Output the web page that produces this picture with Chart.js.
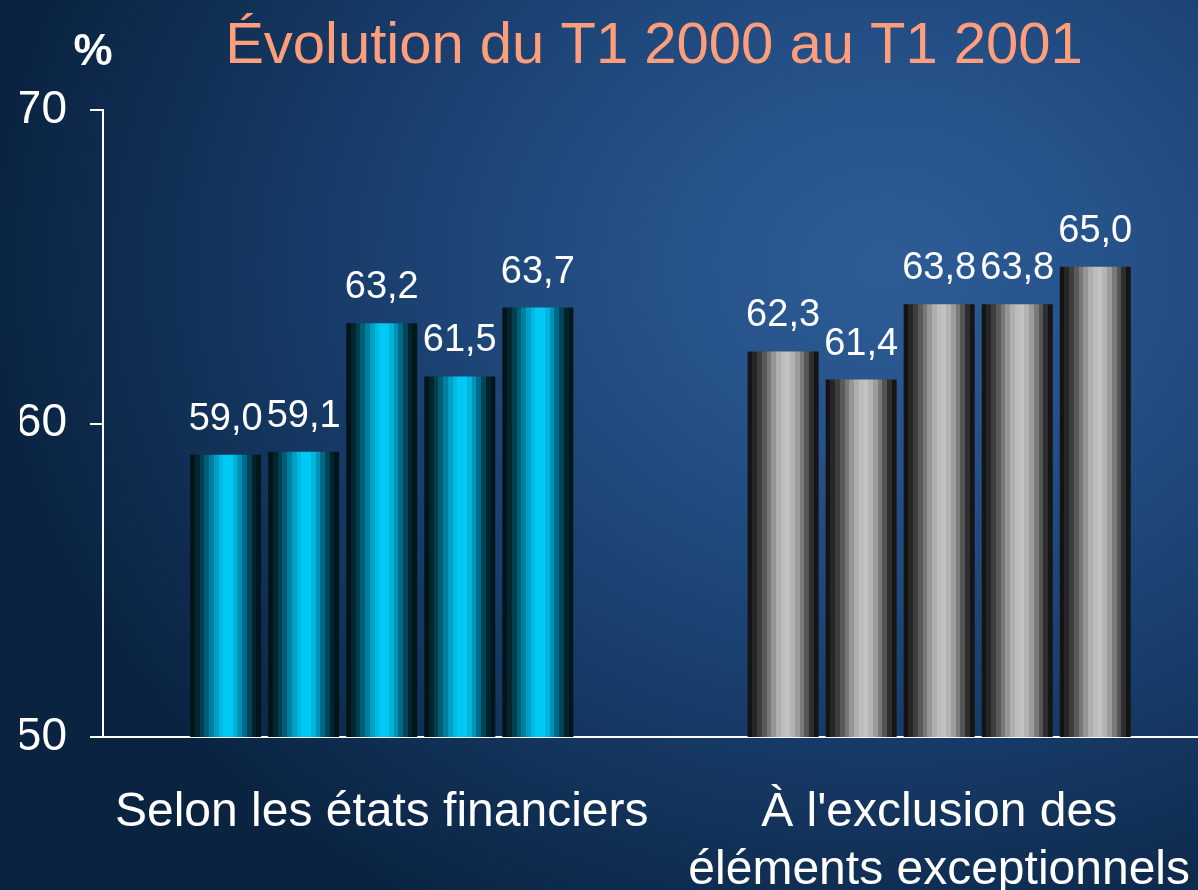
<!DOCTYPE html>
<html lang="fr">
<head>
<meta charset="utf-8">
<title>Évolution du T1 2000 au T1 2001</title>
<script src="https://cdn.jsdelivr.net/npm/chart.js@4.4.1/dist/chart.umd.min.js"></script>
<style>
  html, body { margin: 0; padding: 0; width: 1198px; height: 890px; overflow: hidden; }
  body { background: radial-gradient(ellipse 900px 750px at 74% 30%, #2d5c96 0%, #26528a 25%, #183d6b 60%, #0a2341 100%); }
  canvas { display: block; }
</style>
</head>
<body>
<canvas id="evolutionChart" width="1229" height="890"></canvas>
<script>
// données (%)
var categories = [['Selon les états financiers'], ["À l'exclusion des", 'éléments exceptionnels']];
var selonEtats = [59.0, 59.1, 63.2, 61.5, 63.7];
var horsExceptionnels = [62.3, 61.4, 63.8, 63.8, 65.0];
var yMin = 50, yMax = 70, yStep = 10;
var titre = 'Évolution du T1 2000 au T1 2001';

var police = '"Liberation Sans", Arial, sans-serif';

// bandes de couleur pour l'effet cylindre
var bandesCyan = ['#021418', '#03262e', '#00404f', '#005e76', '#007f9f', '#009fc6', '#00b9e2', '#00c9f6', '#00c9f6', '#00b4dc', '#0093b8', '#006b88', '#00445a', '#01232b', '#01161a'];
var bandesGris = ['#141414', '#262626', '#3e3e3e', '#5a5a5a', '#787878', '#969696', '#afafaf', '#bdbdbd', '#c2c2c2', '#b4b4b4', '#9c9c9c', '#7a7a7a', '#555555', '#2e2e2e', '#151515'];

function degrade(ctx, x0, x1, bandes) {
    var g = ctx.createLinearGradient(x0, 0, x1, 0);
    var n = bandes.length;
    for (var i = 0; i < n; i++) {
        g.addColorStop(i / n, bandes[i]);
        g.addColorStop(Math.min(1, (i + 1) / n - 0.0001), bandes[i]);
    }
    return g;
}

var datasets = [];
for (var i = 0; i < selonEtats.length; i++) {
    datasets.push({
        data: [selonEtats[i], horsExceptionnels[i]],
        // scriptable pour que chaque barre ait ses propres options
        backgroundColor: function (c) { return c.dataIndex === 0 ? '#00c8f5' : '#bdbdbd'; },
        borderWidth: 0,
        categoryPercentage: 0.70,
        barPercentage: 0.91
    });
}

var cylindres = {
    id: 'cylindres',
    beforeDatasetsDraw: function (chart) {
        var ctx = chart.ctx;
        chart.data.datasets.forEach(function (ds, di) {
            chart.getDatasetMeta(di).data.forEach(function (bar, idx) {
                var x0 = bar.x - bar.width / 2, x1 = bar.x + bar.width / 2;
                bar.options.backgroundColor = degrade(ctx, x0, x1, idx === 0 ? bandesCyan : bandesGris);
            });
        });
    },
    afterDatasetsDraw: function (chart) {
        var ctx = chart.ctx;
        ctx.save();
        ctx.fillStyle = '#ffffff';
        ctx.font = '38px ' + police;
        ctx.textAlign = 'center';
        ctx.textBaseline = 'alphabetic';
        chart.data.datasets.forEach(function (ds, di) {
            chart.getDatasetMeta(di).data.forEach(function (bar, idx) {
                ctx.fillText(ds.data[idx].toFixed(1).replace('.', ','), bar.x, bar.y - 25);
            });
        });
        ctx.restore();
    },
    afterDraw: function (chart) {
        var ctx = chart.ctx;
        ctx.save();
        ctx.textBaseline = 'alphabetic';
        ctx.textAlign = 'center';
        ctx.fillStyle = '#ff9e7a';
        ctx.font = '58px ' + police;
        ctx.fillText(titre, 654, 63);
        ctx.fillStyle = '#ffffff';
        ctx.font = 'bold 44px ' + police;
        ctx.fillText('%', 93, 65);
        ctx.restore();
    }
};

var ctx = document.getElementById('evolutionChart').getContext('2d');
var evolutionChart = new Chart(ctx, {
    type: 'bar',
    data: {
        labels: categories,
        datasets: datasets
    },
    options: {
        responsive: false,
        animation: false,
        devicePixelRatio: 1,
        layout: { padding: { top: 110, left: 20, right: 0, bottom: 0 } },
        plugins: {
            legend: { display: false },
            tooltip: { enabled: false }
        },
        scales: {
            x: {
                grid: { display: false },
                border: { color: '#ffffff', width: 2 },
                ticks: {
                    color: '#ffffff',
                    font: { family: police, size: 48, lineHeight: 1.2 },
                    padding: 39,
                    maxRotation: 0,
                    autoSkip: false
                },
                afterFit: function (scale) { scale.height = 153; }
            },
            y: {
                min: yMin,
                max: yMax,
                grid: { drawOnChartArea: false, color: '#ffffff', lineWidth: 2, tickLength: 13 },
                border: { color: '#ffffff', width: 2 },
                ticks: {
                    stepSize: yStep,
                    color: '#ffffff',
                    font: { family: police, size: 46 },
                    padding: 23
                },
                afterFit: function (scale) { scale.width = 83; }
            }
        }
    },
    plugins: [cylindres]
});
</script>
</body>
</html>
